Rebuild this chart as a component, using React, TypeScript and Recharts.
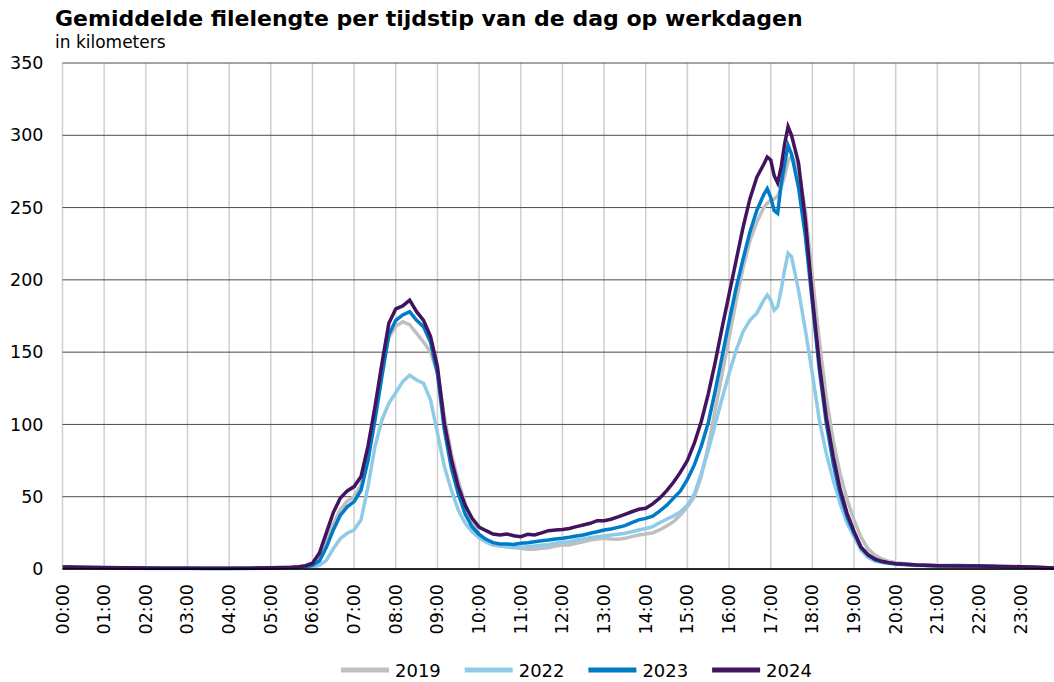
import { LineChart, Line, XAxis, YAxis, CartesianGrid } from 'recharts'

const TIMES = [
  '00:00', '00:30', '01:00', '01:30', '02:00', '02:30', '03:00', '03:30', '04:00', '04:30',
  '05:00', '05:30', '05:40', '05:50', '06:00', '06:10', '06:20', '06:30', '06:40', '06:50',
  '07:00', '07:10', '07:20', '07:30', '07:40', '07:50', '08:00', '08:10', '08:20', '08:30',
  '08:40', '08:50', '09:00', '09:10', '09:20', '09:30', '09:40', '09:50', '10:00', '10:10',
  '10:20', '10:30', '10:40', '10:50', '11:00', '11:10', '11:20', '11:30', '11:40', '11:50',
  '12:00', '12:10', '12:20', '12:30', '12:40', '12:50', '13:00', '13:10', '13:20', '13:30',
  '13:40', '13:50', '14:00', '14:10', '14:20', '14:30', '14:40', '14:50', '15:00', '15:10',
  '15:20', '15:30', '15:40', '15:50', '16:00', '16:10', '16:20', '16:30', '16:40', '16:50',
  '16:55', '17:00', '17:05', '17:10', '17:15', '17:20', '17:25', '17:30', '17:40', '17:50',
  '18:00', '18:10', '18:20', '18:30', '18:40', '18:50', '19:00', '19:10', '19:20', '19:30',
  '19:40', '19:50', '20:00', '20:30', '21:00', '21:30', '22:00', '22:30', '23:00', '23:30',
  '23:48',
]

const KM_2019 = [
  1.3, 1.1, 0.9, 0.7, 0.6, 0.5, 0.5, 0.5, 0.5, 0.6,
  0.8, 1.1, 1.4, 2.0, 3, 8, 19, 31, 41, 47,
  50, 58, 80, 110, 140, 160, 168, 171, 169, 163,
  157, 150, 136, 105, 80, 61, 45, 32, 24, 19.5,
  17.3, 16.1, 15.4, 14.7, 14.3, 13.6, 13.6, 14.3, 14.7, 15.9,
  16.6, 16.6, 17.8, 18.9, 20, 20.7, 21.2, 20.7, 20.5, 21.2,
  22.4, 23.5, 24.2, 25, 27, 29.7, 32.7, 37.4, 43, 50,
  64, 85, 110, 135, 160, 185, 208, 227, 240, 250,
  253, 255, 256, 258, 264, 272, 282, 286, 276, 248,
  202, 158, 119, 89, 66, 48, 34, 22, 14, 9.7,
  6.9, 5.3, 4.4, 3, 2.5, 2.2, 2, 1.8, 1.6, 1.1,
  0.8,
]

const KM_2022 = [
  1.0, 0.8, 0.7, 0.5, 0.4, 0.4, 0.3, 0.3, 0.3, 0.4,
  0.5, 0.7, 0.8, 1.0, 1.3, 2.5, 6, 14, 21, 24.7,
  27, 34, 57, 84.6, 103, 114.6, 122, 129.6, 134, 130.7,
  128.4, 117, 94, 70.8, 54.6, 40.8, 31.6, 25.8, 21.5, 18.5,
  16.6, 15.9, 15.4, 15, 15, 15.4, 15.9, 16.4, 17, 17.8,
  18.5, 18.9, 20, 20.7, 21.7, 22.4, 22.8, 23.5, 24, 24.7,
  25.8, 27, 28, 29.3, 32, 34.4, 36.7, 39.6, 44, 52,
  66, 82, 100, 118, 135, 151, 164, 172, 177, 186,
  189.5, 186, 179, 181.4, 193, 206.8, 218.4, 216, 193, 165,
  135, 103, 80, 61.6, 45.4, 31.6, 22.4, 13, 8, 5.5,
  4.5, 3.8, 3.3, 2.5, 2.1, 2.0, 1.8, 1.6, 1.4, 0.9,
  0.6,
]

const KM_2023 = [
  1.3, 1.1, 0.9, 0.7, 0.6, 0.5, 0.5, 0.4, 0.4, 0.5,
  0.7, 1.0, 1.2, 1.6, 2.5, 5.5, 15, 27, 37, 43,
  46.6, 54.6, 75, 103, 133, 162, 172, 175.7, 178, 172,
  167.6, 157, 135, 96, 70, 52, 38, 29, 24, 20.5,
  18.2, 17.3, 17.3, 17, 17.8, 18.2, 18.9, 19.6, 20, 20.7,
  21.2, 21.9, 22.8, 23.5, 24.7, 25.8, 27, 27.7, 28.8, 30,
  32, 34, 35, 36.5, 40, 44, 49, 54, 62, 72,
  85, 101, 123, 147, 171, 194, 214, 233, 248, 259,
  263, 257, 248, 246, 266, 280, 293, 287, 264, 230,
  184, 138, 101, 73, 52, 36, 24.7, 15, 9.5, 6.5,
  5, 4.2, 3.6, 2.7, 2.3, 2.5, 2.1, 1.8, 1.6, 1.0,
  0.7,
]

const KM_2024 = [
  1.4, 1.2, 1.0, 0.8, 0.7, 0.6, 0.5, 0.5, 0.5, 0.6,
  0.8, 1.2, 1.6, 2.3, 4, 11, 25, 39, 49, 54,
  57, 64, 85, 112, 142, 170, 180, 182, 186, 178,
  172, 161, 140, 101, 76, 57, 44, 35, 29, 26.5,
  24.2, 23.5, 24.2, 23, 22.4, 24, 23.5, 25, 26.5, 27,
  27.4, 28, 29.3, 30.4, 31.6, 33.4, 33.4, 34.4, 36, 37.8,
  39.6, 41.3, 42, 45, 49, 54, 60, 67, 75, 87,
  102, 121, 143, 167, 190, 213, 236, 256, 271, 280,
  285, 283, 272, 267, 278, 294, 306, 300, 281, 241,
  188, 142, 105, 78, 55, 38.5, 26, 15, 10, 7,
  5.3, 4.4, 3.7, 2.8, 2.3, 2.1, 2.0, 1.8, 1.6, 1.0,
  0.7,
]

const HOUR_LABELS = [
  '00:00', '01:00', '02:00', '03:00', '04:00', '05:00', '06:00', '07:00',
  '08:00', '09:00', '10:00', '11:00', '12:00', '13:00', '14:00', '15:00',
  '16:00', '17:00', '18:00', '19:00', '20:00', '21:00', '22:00', '23:00',
]
const Y_TICKS = [0, 50, 100, 150, 200, 250, 300, 350]

const SERIES = [
  { key: 'y2019', name: '2019', color: '#bfbfbf', values: KM_2019 },
  { key: 'y2022', name: '2022', color: '#8fcae7', values: KM_2022 },
  { key: 'y2023', name: '2023', color: '#007bc7', values: KM_2023 },
  { key: 'y2024', name: '2024', color: '#42145f', values: KM_2024 },
]

const FONT = '"DejaVu Sans", Verdana, sans-serif'

const toMin = (t: string) => {
  const [h, m] = t.split(':').map(Number)
  return h * 60 + m
}
const toLabel = (min: number) => HOUR_LABELS[Math.round(min / 60)] ?? ''

const data = TIMES.map((t, i) => {
  const row: Record<string, number> = { min: toMin(t) }
  SERIES.forEach((s) => { row[s.key] = s.values[i] })
  return row
})

function HourTick({ x, y, payload }: any) {
  return (
    <text
      x={x}
      y={y}
      transform={`rotate(-90 ${x} ${y})`}
      textAnchor="end"
      dominantBaseline="central"
      fontSize={17.5}
      fontFamily={FONT}
      fill="#000"
    >
      {toLabel(payload.value)}
    </text>
  )
}

export default function App() {
  return (
    <div style={{ position: 'absolute', left: 0, top: 0, width: 1054, height: 682, background: '#fff', overflow: 'hidden' }}>
      <LineChart width={1054} height={682} data={data} margin={{ top: 63, right: 0, left: 0, bottom: 0 }}>
        <CartesianGrid horizontal={false} stroke="#cfcfcf" strokeWidth={1.5} />
        <CartesianGrid vertical={false} stroke="#4a4a4a" />
        <XAxis
          dataKey="min"
          type="number"
          domain={[0, 1428]}
          ticks={HOUR_LABELS.map(toMin)}
          height={113}
          tick={<HourTick />}
          tickLine={false}
          tickSize={0}
          tickMargin={15}
          axisLine={{ stroke: '#000', strokeWidth: 1.5 }}
          allowDataOverflow
        />
        <YAxis
          type="number"
          domain={[0, 350]}
          ticks={Y_TICKS}
          width={62.5}
          axisLine={false}
          tickLine={false}
          tickSize={0}
          tickMargin={19}
          tick={{ fontSize: 17.5, fill: '#000', fontFamily: FONT }}
        />
        {SERIES.map((s) => (
          <Line
            key={s.key}
            type="linear"
            dataKey={s.key}
            name={s.name}
            stroke={s.color}
            strokeWidth={3.5}
            dot={false}
            isAnimationActive={false}
          />
        ))}
      </LineChart>
      <svg width={1054} height={682} style={{ position: 'absolute', left: 0, top: 0, pointerEvents: 'none' }}>
        <text x={55} y={26} fontSize={22} fontWeight="bold" fontFamily={FONT} fill="#000">
          Gemiddelde filelengte per tijdstip van de dag op werkdagen
        </text>
        <text x={55} y={48} fontSize={17} fontFamily={FONT} fill="#000">
          in kilometers
        </text>
        {SERIES.map((s, i) => {
          const x0 = 341 + i * 123.7
          return (
            <g key={s.key}>
              <line x1={x0} x2={x0 + 48} y1={670} y2={670} stroke={s.color} strokeWidth={5} />
              <text x={x0 + 54} y={677} fontSize={18} fontFamily={FONT} fill="#000">{s.name}</text>
            </g>
          )
        })}
      </svg>
    </div>
  )
}
